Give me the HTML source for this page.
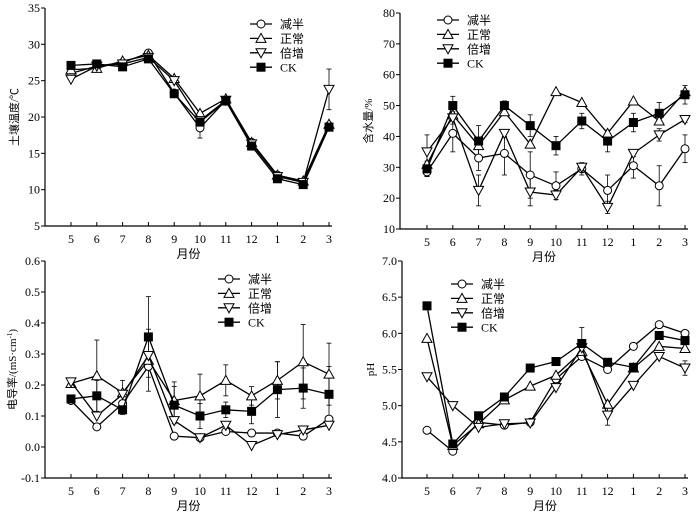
<!DOCTYPE html>
<html><head><meta charset="utf-8"><style>
html,body{margin:0;padding:0;background:#fff;}
svg{display:block;font-family:"Liberation Serif","Noto Serif CJK SC",serif;}
</style></head><body>
<svg id="c" width="700" height="512"></svg>
<script>
const months=["5","6","7","8","9","10","11","12","1","2","3"];
const seriesNames=["减半","正常","倍增","CK"];
const markers=["circle","tri","tridown","square"];
// Panel 1: soil temperature
const tempHalf=[26.0,27.0,27.5,28.8,23.3,18.5,22.3,16.5,12.0,11.0,18.8];
const tempNormal=[26.5,26.7,27.7,28.5,25.3,20.5,22.5,16.5,12.0,11.2,19.0];
const tempDouble=[25.2,27.0,27.3,28.2,25.0,19.5,22.3,16.3,11.8,11.0,23.8];
const tempCK=[27.1,27.3,26.9,28.0,23.2,19.3,22.2,16.0,11.5,10.7,18.6];
const tempErrDouble=[0,0,0,0,0,0,0,0,0,0,2.8];
const tempErrHalf=[0,0,0,0,0,1.4,0,0,0,0,0];
const tempTicks=[5,10,15,20,25,30,35];
// Panel 2: water content
const waterHalf=[28.5,41,33,34.5,27.5,24,29.5,22.5,30.5,24,36];
const waterNormal=[31,47,37,48,37.5,54.5,51,41,51.5,45,54.5];
const waterDouble=[35,46,22.5,41,22,21,30,17,34.5,40.5,45.5];
const waterCK=[29.5,50,38.5,50,43.5,37,45,38.5,44.5,47.5,53.5];
const waterErrHalf=[1.5,6,4,7,7.5,4.5,2,5,4,6.5,4.5];
const waterErrDouble=[5.5,2,5,1,4.5,1.5,1,2,1,2,1];
const waterErrCK=[2.5,3,5,1.5,3.5,3,2.5,3.5,3,3.5,3];
const waterTicks=[10,20,30,40,50,60,70,80];
// Panel 3: conductivity
const ecHalf=[0.15,0.065,0.14,0.26,0.035,0.03,0.05,0.045,0.045,0.035,0.09];
const ecNormal=[0.205,0.23,0.175,0.28,0.15,0.165,0.215,0.165,0.215,0.275,0.235];
const ecDouble=[0.21,0.10,0.17,0.295,0.085,0.03,0.07,0.005,0.04,0.055,0.07];
const ecCK=[0.155,0.165,0.12,0.355,0.135,0.10,0.12,0.115,0.185,0.19,0.17];
const ecErrNormal=[0.01,0.115,0.04,0.1,0.06,0.07,0.05,0.03,0.06,0.12,0.1];
const ecErrCK=[0.01,0.05,0.015,0.13,0.06,0.04,0.025,0.04,0.09,0.065,0.09];
const ecTicks=[-0.1,0.0,0.1,0.2,0.3,0.4,0.5,0.6];
// Panel 4: pH
const phHalf=[4.66,4.37,4.77,4.73,4.77,5.37,5.68,5.50,5.82,6.12,6.00];
const phNormal=[5.93,4.45,4.75,5.08,5.27,5.42,5.75,5.02,5.52,5.82,5.79];
const phDouble=[5.40,5.00,4.70,4.75,4.76,5.25,5.80,4.87,5.28,5.68,5.52];
const phCK=[6.38,4.47,4.86,5.12,5.52,5.61,5.86,5.60,5.53,5.97,5.90];
const phErrCK=[0,0,0,0,0,0,0.22,0.05,0,0,0];
const phErrDouble=[0,0,0,0,0,0,0,0.14,0,0,0.1];
const phTicks=[4.0,4.5,5.0,5.5,6.0,6.5,7.0];

const NS="http://www.w3.org/2000/svg";
const svg=document.getElementById("c");
function mk(tag,attrs,parent){const e=document.createElementNS(NS,tag);for(const k in attrs)e.setAttribute(k,attrs[k]);(parent||svg).appendChild(e);return e;}

function marker(g,type,x,y){
  let e;
  if(type==="circle")e=mk("circle",{cx:x,cy:y,r:4,fill:"#fff",stroke:"#000","stroke-width":1},g);
  else if(type==="tri")e=mk("polygon",{points:`${x},${y-5} ${x-5},${y+4} ${x+5},${y+4}`,fill:"#fff",stroke:"#000","stroke-width":1},g);
  else if(type==="tridown")e=mk("polygon",{points:`${x},${y+5} ${x-5},${y-4} ${x+5},${y-4}`,fill:"#fff",stroke:"#000","stroke-width":1},g);
  else e=mk("rect",{x:x-4.5,y:y-4.5,width:9,height:9,fill:"#000"},g);
  return e;
}

function panel(cfg){
  const g=mk("g",{});
  
  
  const [vmin,vmax]=cfg.range;
  const yS=v=>cfg.yBot-(v-vmin)/(vmax-vmin)*(cfg.yBot-cfg.yTop);
  const xS=i=>cfg.x0+i*(cfg.x1-cfg.x0)/10;
  const right=cfg.x1+3;
  const ax=mk("path",{d:`M${cfg.ax},${cfg.yTop} V${cfg.yBot} H${right}`,fill:"none",stroke:"#000","stroke-width":1.2},g);
  
  
  cfg.ticks.forEach(t=>{
    const y=yS(t);
    mk("line",{x1:cfg.ax-4,x2:cfg.ax,y1:y,y2:y,stroke:"#000"},g);
    const tx=mk("text",{x:cfg.ax-5,y:y+4,"text-anchor":"end","font-size":12},g);
    tx.textContent=cfg.fmt(t);
    
    
  });
  months.forEach((m,i)=>{
    const x=xS(i);
    mk("line",{x1:x,x2:x,y1:cfg.yBot,y2:cfg.yBot-4,stroke:"#000"},g);
    const tx=mk("text",{x:x,y:cfg.yBot+17,"text-anchor":"middle","font-size":12},g);
    tx.textContent=m;
    
    
  });
  const xt=mk("text",{x:(cfg.ax+right)/2,y:cfg.yBot+32,"text-anchor":"middle","font-size":12,"font-family":"'Noto Sans CJK SC',sans-serif"},g);
  xt.textContent="月份";
  
  
  const cy=(cfg.yTop+cfg.yBot)/2;
  const yt=mk("text",{x:cfg.ylx,y:cy,"text-anchor":"middle","font-size":11,transform:`rotate(-90 ${cfg.ylx} ${cy})`,"font-family":"'Liberation Serif','Noto Sans CJK SC',sans-serif"},g);
  yt.innerHTML=cfg.ylabel;
  
  
  // error bars
  cfg.errs.forEach(([si,arr])=>{
    arr.forEach((e,i)=>{
      if(!e)return;
      const x=xS(i),v=cfg.series[si][i];
      const y1=yS(v-e),y2=yS(v+e);
      mk("line",{x1:x,x2:x,y1:y1,y2:y2,stroke:"#000","stroke-width":0.8},g);
      mk("line",{x1:x-2.5,x2:x+2.5,y1:y1,y2:y1,stroke:"#000","stroke-width":0.8},g);
      mk("line",{x1:x-2.5,x2:x+2.5,y1:y2,y2:y2,stroke:"#000","stroke-width":0.8},g);
    });
  });
  cfg.series.forEach((arr,si)=>{
    const sg=mk("g",{},g);
    
    
    mk("polyline",{points:arr.map((v,i)=>xS(i)+","+yS(v)).join(" "),fill:"none",stroke:"#000","stroke-width":1.3},sg);
    arr.forEach((v,i)=>{
      const m=marker(sg,markers[si],xS(i),yS(v));
      
      
    });
  });
  // legend
  const lg=mk("g",{},g);
  
  
  seriesNames.forEach((n,i)=>{
    const y=cfg.legY+i*14.4;
    const le=mk("g",{},lg);
    
    
    mk("line",{x1:cfg.legX,x2:cfg.legX+22,y1:y,y2:y,stroke:"#000","stroke-width":1.3},le);
    marker(le,markers[i],cfg.legX+11,y);
    const t=mk("text",{x:cfg.legX+30,y:y+4.5,"font-size":12,"font-family":"'Liberation Serif','Noto Sans CJK SC',sans-serif"},le);
    t.textContent=n;
  });
}

panel({name:"soil-temperature-panel",ax:45,x0:71,x1:329,yTop:8,yBot:226,range:[5,35],ticks:tempTicks,fmt:t=>String(t),
  ylx:18,ylabel:"土壤温度/℃",series:[tempHalf,tempNormal,tempDouble,tempCK],
  errs:[[2,tempErrDouble],[0,tempErrHalf]],legX:250,legY:24});
panel({name:"water-content-panel",ax:400,x0:427,x1:685,yTop:13,yBot:229,range:[10,80],ticks:waterTicks,fmt:t=>String(t),
  ylx:372,ylabel:"含水量/%",series:[waterHalf,waterNormal,waterDouble,waterCK],
  errs:[[0,waterErrHalf],[2,waterErrDouble],[3,waterErrCK]],legX:437,legY:20});
panel({name:"conductivity-panel",ax:45,x0:71,x1:329,yTop:261,yBot:478,range:[-0.1,0.6],ticks:ecTicks,fmt:t=>t.toFixed(1),
  ylx:16,ylabel:"电导率/(mS·cm<tspan font-size='7' dy='-4'>-1</tspan><tspan dy='4'>)</tspan>",series:[ecHalf,ecNormal,ecDouble,ecCK],
  errs:[[1,ecErrNormal],[3,ecErrCK]],legX:218,legY:279});
panel({name:"ph-panel",ax:402,x0:427,x1:685,yTop:261,yBot:478,range:[4.0,7.0],ticks:phTicks,fmt:t=>t.toFixed(1),
  ylx:374,ylabel:"pH",series:[phHalf,phNormal,phDouble,phCK],
  errs:[[3,phErrCK],[2,phErrDouble]],legX:451,legY:284});
</script>
</body></html>
